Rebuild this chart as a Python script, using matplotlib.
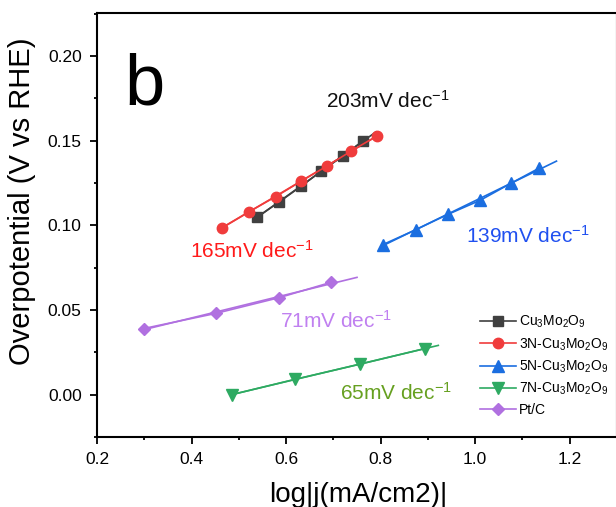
import numpy as np
import matplotlib
matplotlib.use('Agg')
import matplotlib.pyplot as plt
from matplotlib.ticker import MultipleLocator

plt.rcParams['font.family'] = ['Liberation Sans', 'DejaVu Sans']
plt.rcParams['mathtext.default'] = 'regular'

# Tafel data: log|j| vs overpotential
cu_x = [0.539, 0.586, 0.631, 0.674, 0.720, 0.763]
cu_y = [0.105, 0.114, 0.123, 0.132, 0.141, 0.150]

n3_x = [0.464, 0.521, 0.578, 0.631, 0.686, 0.738, 0.793]
n3_y = [0.0986, 0.108, 0.117, 0.126, 0.135, 0.144, 0.153]

n5_x = [0.805, 0.874, 0.942, 1.011, 1.075, 1.135]
n5_y = [0.0887, 0.0974, 0.1065, 0.1149, 0.1248, 0.1338]

n7_x = [0.485, 0.619, 0.756, 0.893]
n7_y = [0.0, 0.0091, 0.018, 0.0272]

pt_x = [0.299, 0.451, 0.585, 0.694]
pt_y = [0.0391, 0.048, 0.0573, 0.0663]

# where each fitted line stops
fit_end = [0.790, 0.793, 1.172, 0.922, 0.750]

labels = ['Cu$_3$Mo$_2$O$_9$', '3N-Cu$_3$Mo$_2$O$_9$', '5N-Cu$_3$Mo$_2$O$_9$',
          '7N-Cu$_3$Mo$_2$O$_9$', 'Pt/C']
colors = ['#404040', '#f03c3c', '#1b6ee0', '#2eaa62', '#b070e0']
markers = ['s', 'o', '^', 'v', 'D']
msizes = [6.5, 7.5, 8, 8, 6.5]

slopes = ['203', '165', '139', '65', '71']
slope_colors = ['#111111', '#ff1a1a', '#2050f0', '#66a020', '#c080f0']
slope_pos = [(0.685, 0.1696), (0.397, 0.0808), (0.980, 0.0895), (0.715, -0.003), (0.587, 0.0393)]

series = [(cu_x, cu_y), (n3_x, n3_y), (n5_x, n5_y), (n7_x, n7_y), (pt_x, pt_y)]

fig = plt.figure(figsize=(6.16, 5.07), dpi=100)
ax = fig.add_axes([97 / 616, 70 / 507, 520 / 616, 424 / 507])

for (xs, ys), xe, lab, c, m, ms in zip(series, fit_end, labels, colors, markers, msizes):
    k, b = np.polyfit(xs, ys, 1)
    xx = np.array([xs[0], xe])
    ax.plot(xx, k * xx + b, color=c, lw=1.2, zorder=2)
    ax.plot(xs, ys, color=c, lw=1.2, marker=m, ms=ms, label=lab, zorder=3)

for s, c, (tx, ty) in zip(slopes, slope_colors, slope_pos):
    ax.text(tx, ty, s + 'mV dec$^{-1}$', color=c, fontsize=15, ha='left', va='baseline')

ax.text(0.257, 0.1715, 'b', fontsize=52, ha='left', va='baseline')

ax.set_xlim(0.2, 1.3)
ax.set_ylim(-0.025, 0.2255)
ax.xaxis.set_major_locator(MultipleLocator(0.2))
ax.xaxis.set_minor_locator(MultipleLocator(0.1))
ax.yaxis.set_major_locator(MultipleLocator(0.05))
ax.yaxis.set_minor_locator(MultipleLocator(0.025))
ax.xaxis.set_major_formatter(plt.FuncFormatter(lambda v, p: '%.1f' % v))
ax.yaxis.set_major_formatter(plt.FuncFormatter(lambda v, p: '%.2f' % v))
ax.tick_params(which='major', direction='out', length=5, width=1.3, labelsize=12.5, pad=6)
ax.tick_params(which='minor', direction='out', length=2.5, width=1.3)
for sp in ax.spines.values():
    sp.set_linewidth(1.5)

ax.set_ylabel('Overpotential (V vs RHE)', fontsize=21)
ax.set_xlabel('log|j(mA/cm2)|', fontsize=20)
ax.yaxis.set_label_coords(-0.117, 0.557)
ax.xaxis.set_label_coords(0.503, -0.105)

ax.legend(loc='upper left', bbox_to_anchor=(0.7365, 0.29), frameon=False, fontsize=10,
          handlelength=2.6, handletextpad=0.2, labelspacing=0.42, borderpad=0, borderaxespad=0)

fig.savefig('out.png', dpi=100)
